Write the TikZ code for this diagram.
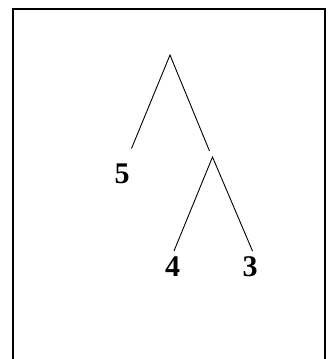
\documentclass[tikz,border=0pt]{standalone}
\usepackage{fontspec}
\setmainfont{Liberation Serif}
\begin{document}
\begin{tikzpicture}[x=1pt,y=-1pt,
  edge/.style={line width=0.9pt, black},
  leaf/.style={font=\fontsize{30}{32}\selectfont\bfseries, inner sep=0pt}]
\useasboundingbox (0,0) rectangle (332,359);
\draw[line width=2pt] (13,360) -- (13,9) -- (325,9) -- (325,360);
\coordinate (root) at (170,55);
\coordinate (l5) at (131.5,148.5);
\coordinate (r1) at (209.5,151);
\coordinate (inner) at (212.5,157);
\coordinate (l4) at (174,251);
\coordinate (l3) at (252.5,251);
\node[leaf] (n5) at (122,173.5) {5};
\node[leaf] (n4) at (172.5,267) {4};
\node[leaf] (n3) at (250,267) {3};
\draw[edge] (l5) -- (root) -- (r1);
\draw[edge] (l4) -- (inner) -- (l3);
\end{tikzpicture}
\end{document}
